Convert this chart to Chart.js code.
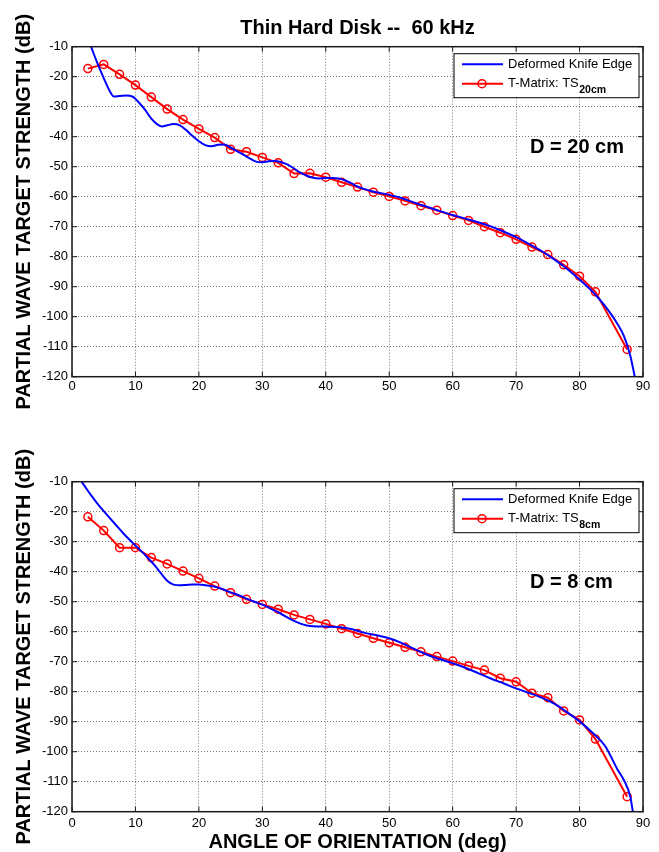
<!DOCTYPE html>
<html>
<head>
<meta charset="utf-8">
<script src="https://cdn.jsdelivr.net/npm/chart.js@4.4.0/dist/chart.umd.min.js"></script>
<style>
  body { margin: 0; background: #fff; }
  .panel { position: absolute; left: 0; width: 659px; height: 426px; }
</style>
</head>
<body>
<div class="panel" style="top:0"><canvas id="topChart" width="659" height="426"></canvas></div>
<div class="panel" style="top:426px"><canvas id="bottomChart" width="659" height="426"></canvas></div>
<script>
const FONT = "'Liberation Sans', Arial, sans-serif";

const xTicks = [0, 10, 20, 30, 40, 50, 60, 70, 80, 90];
const yTicks = [-120, -110, -100, -90, -80, -70, -60, -50, -40, -30, -20, -10];

// T-Matrix samples (same angles for both disks)
const tmAngles = [2.5, 5, 7.5, 10, 12.5, 15, 17.5, 20, 22.5, 25,
  27.5, 30, 32.5, 35, 37.5, 40, 42.5, 45, 47.5, 50,
  52.5, 55, 57.5, 60, 62.5, 65, 67.5, 70, 72.5, 75,
  77.5, 80, 82.5, 87.5];
const tm20 = [-17.3, -15.9, -19.2, -22.8, -26.8, -30.8, -34.3, -37.4, -40.3, -44.2,
  -45.0, -46.9, -48.7, -52.3, -52.2, -53.5, -55.2, -56.8, -58.5, -59.9,
  -61.4, -63.0, -64.5, -66.3, -67.9, -70.0, -72.0, -74.2, -76.8, -79.3,
  -82.7, -86.5, -91.7, -110.9];
const tm8 = [-21.7, -26.3, -32.0, -32.0, -35.3, -37.4, -39.8, -42.2, -44.8, -47.0,
  -49.2, -50.9, -52.5, -54.4, -55.9, -57.4, -59.0, -60.6, -62.2, -63.7,
  -65.2, -66.7, -68.3, -69.8, -71.4, -72.8, -75.5, -76.7, -80.5, -82.0,
  -86.4, -89.4, -95.8, -115.0];

// Deformed knife edge curves
const knifeAngles20 = [3, 4, 5, 6, 6.6, 7.5, 8.5, 9.5, 10.5, 11.5, 12.5, 13.5, 14.2, 15, 16, 17, 18, 19, 20,
  21, 22, 23, 24, 25, 26, 27, 28, 29, 30, 31, 32, 33, 34, 35, 36, 37, 38, 39, 40,
  41, 42, 43, 44, 45, 46, 47, 48, 50, 52, 54, 56, 58, 60, 62, 64, 66, 68, 70,
  72, 74, 76, 78, 80, 82, 84, 86, 87, 88, 88.7];
const knife20 = [-10, -15.5, -20.5, -25, -26.6, -26.4, -26.3, -26.6, -28.5, -31, -34, -36, -36.6, -36.2, -35.8, -36.2, -37.8, -39.8, -41.5,
  -42.8, -43.2, -42.7, -42.6, -43.6, -44.8, -46, -47.2, -48.3, -48.5, -48.2, -48.1, -48.5, -49.3, -50.6, -52, -53, -53.7, -53.9, -53.8,
  -53.8, -53.9, -54.5, -55.5, -56.6, -57.4, -58, -58.5, -59.4, -60.5, -62, -63.4, -64.8, -66.1, -67.3, -68.5, -69.9, -71.6, -73.5,
  -75.7, -78.1, -80.9, -84, -87.6, -91.5, -96.4, -102.5, -106.5, -113, -120];

const knifeAngles8 = [1.5, 2, 3, 4, 5, 6, 7, 8, 9, 10, 11, 12, 13, 14, 15, 16, 17, 18, 19, 20,
  21, 22, 23, 24, 25, 26, 27, 28, 29, 30, 31, 32, 33, 34, 35, 36, 37, 38, 40,
  42, 44, 46, 48, 50, 52, 54, 56, 58, 60, 62, 64, 66, 68, 70,
  72, 74, 76, 78, 80, 82, 84, 86, 87, 88, 88.4];
const knife8 = [-10, -11.5, -14.5, -17.3, -19.8, -22.2, -24.6, -27, -29.2, -31.3, -33.3, -35.5, -37.8, -40.5, -43, -44.3, -44.5, -44.4, -44.3, -44.3,
  -44.5, -44.8, -45.3, -46, -46.9, -47.6, -48.5, -49.4, -50.2, -51, -52, -53, -54.1, -55.3, -56.4, -57.3, -57.9, -58.2, -58.3,
  -58.4, -59.1, -60.3, -61.2, -62.2, -63.8, -65.8, -67.7, -69.2, -70.5, -72, -73.8, -75.6, -77.2, -78.9,
  -80.4, -82, -84, -86.8, -89.9, -93.6, -98, -106, -109.5, -115, -120];

const knifeLabel = "Deformed Knife Edge";
const tmLabel = "T-Matrix: TS";

function pairs(xs, ys) {
  return xs.map((x, i) => ({ x: x, y: ys[i] }));
}

// frame, inward ticks, legend box and "D = .." text, drawn over the plot
const matlabLook = {
  id: "matlabLook",
  afterDraw(chart, args, opts) {
    const ctx = chart.ctx;
    const a = chart.chartArea;
    const xs = chart.scales.x;
    const ys = chart.scales.y;
    ctx.save();

    // box
    ctx.strokeStyle = "#1a1a1a";
    ctx.lineWidth = 1.5;
    ctx.strokeRect(a.left, a.top, a.right - a.left, a.bottom - a.top);

    // inward ticks on all four sides
    ctx.lineWidth = 1;
    ctx.beginPath();
    xTicks.forEach(v => {
      const px = xs.getPixelForValue(v);
      ctx.moveTo(px, a.bottom); ctx.lineTo(px, a.bottom - 5);
      ctx.moveTo(px, a.top); ctx.lineTo(px, a.top + 5);
    });
    yTicks.forEach(v => {
      const py = ys.getPixelForValue(v);
      ctx.moveTo(a.left, py); ctx.lineTo(a.left + 5, py);
      ctx.moveTo(a.right, py); ctx.lineTo(a.right - 5, py);
    });
    ctx.stroke();

    // legend
    const bw = 185, bh = 44;
    const bx = a.right - 4 - bw, by = a.top + 7;
    ctx.fillStyle = "#fff";
    ctx.fillRect(bx, by, bw, bh);
    ctx.strokeStyle = "#000";
    ctx.strokeRect(bx, by, bw, bh);

    const r1 = by + 10.5, r2 = by + 30;
    ctx.lineWidth = 2;
    ctx.strokeStyle = "#0000ff";
    ctx.beginPath(); ctx.moveTo(bx + 8, r1); ctx.lineTo(bx + 49, r1); ctx.stroke();
    ctx.strokeStyle = "#ff0000";
    ctx.beginPath(); ctx.moveTo(bx + 8, r2); ctx.lineTo(bx + 49, r2); ctx.stroke();
    ctx.lineWidth = 1.5;
    ctx.beginPath(); ctx.arc(bx + 28, r2, 4, 0, Math.PI * 2); ctx.stroke();

    ctx.fillStyle = "#000";
    ctx.textBaseline = "middle";
    ctx.textAlign = "left";
    ctx.font = "13px " + FONT;
    ctx.fillText(knifeLabel, bx + 54, r1);
    ctx.fillText(tmLabel, bx + 54, r2);
    const w = ctx.measureText(tmLabel).width;
    ctx.font = "bold 10.5px " + FONT;
    ctx.fillText(opts.sub, bx + 54 + w + 0.5, r2 + 6.5);

    // disk size note
    ctx.font = "bold 20px " + FONT;
    ctx.fillText(opts.note, xs.getPixelForValue(72.2), ys.getPixelForValue(-43.5));

    ctx.restore();
  }
};

function makeChart(id, cfg) {
  return new Chart(document.getElementById(id), {
    type: "line",
    data: {
      datasets: [
        {
          label: knifeLabel,
          data: pairs(cfg.knifeAngles, cfg.knife),
          borderColor: "#0000ff",
          borderWidth: 2,
          pointRadius: 0,
          cubicInterpolationMode: "monotone",
          fill: false
        },
        {
          label: tmLabel + cfg.sub,
          data: pairs(tmAngles, cfg.tm),
          borderColor: "#ff0000",
          borderWidth: 2,
          pointRadius: 4,
          pointBorderWidth: 1.5,
          pointBorderColor: "#ff0000",
          pointBackgroundColor: "rgba(0,0,0,0)",
          tension: 0,
          fill: false
        }
      ]
    },
    options: {
      responsive: false,
      animation: false,
      events: [],
      layout: { padding: { top: cfg.padTop, right: 16, left: 0, bottom: 0 } },
      plugins: {
        legend: { display: false },
        tooltip: { enabled: false },
        title: {
          display: cfg.title !== "",
          text: cfg.title,
          fullSize: false,
          color: "#000",
          font: { family: FONT, size: 20, weight: "bold" },
          padding: { top: 10, bottom: 6 }
        },
        matlabLook: { sub: cfg.sub, note: cfg.note }
      },
      scales: {
        x: {
          type: "linear",
          min: 0,
          max: 90,
          afterBuildTicks: s => { s.ticks = xTicks.map(v => ({ value: v })); },
          afterFit: s => { s.height = cfg.xHeight; },
          grid: { color: "#777", lineWidth: 1, drawTicks: false },
          border: { display: false, dash: [1, 2] },
          ticks: {
            color: "#000",
            font: { family: FONT, size: 13 },
            padding: cfg.xPad,
            maxRotation: 0,
            autoSkip: false
          },
          title: {
            display: cfg.xTitle !== "",
            text: cfg.xTitle,
            color: "#000",
            font: { family: FONT, size: 20, weight: "bold", lineHeight: 1 },
            padding: { top: 0, bottom: 0 }
          }
        },
        y: {
          min: -120,
          max: -10,
          afterBuildTicks: s => { s.ticks = yTicks.map(v => ({ value: v })); },
          afterFit: s => { s.width = 72; },
          grid: { color: "#777", lineWidth: 1, drawTicks: false },
          border: { display: false, dash: [1, 2] },
          ticks: {
            color: "#000",
            font: { family: FONT, size: 13 },
            padding: 4
          },
          title: {
            display: true,
            text: "PARTIAL WAVE TARGET STRENGTH (dB)",
            color: "#000",
            font: { family: FONT, size: 20, weight: "bold", lineHeight: 1 },
            padding: { top: 14, bottom: 0 }
          }
        }
      }
    },
    plugins: [matlabLook]
  });
}

makeChart("topChart", {
  title: "Thin Hard Disk --  60 kHz",
  xTitle: "",
  padTop: 6.7,
  xHeight: 49.3,
  xPad: 2,
  knifeAngles: knifeAngles20,
  knife: knife20,
  tm: tm20,
  sub: "20cm",
  note: "D = 20 cm"
});

makeChart("bottomChart", {
  title: "",
  xTitle: "ANGLE OF ORIENTATION (deg)",
  padTop: 55.7,
  xHeight: 40.3,
  xPad: 3.5,
  knifeAngles: knifeAngles8,
  knife: knife8,
  tm: tm8,
  sub: "8cm",
  note: "D = 8 cm"
});
</script>
</body>
</html>
